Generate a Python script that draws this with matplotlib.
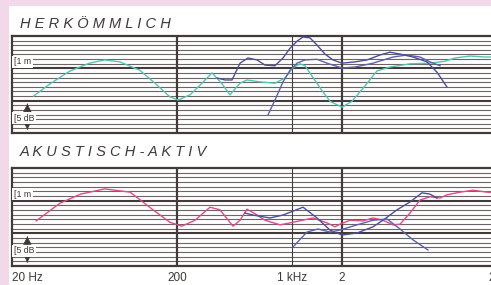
import matplotlib

matplotlib.use("Agg")
import matplotlib.pyplot as plt
from matplotlib.patches import Rectangle
import matplotlib.transforms as mtransforms

# Values: frequency (Hz), level (dB above the panel floor).
# Panel: "HERKÖMMLICH"
herk_teal_f = [27, 34, 45, 59, 73, 90, 119, 147, 181, 203, 240, 276, 326, 375, 419,
               482, 531, 637, 785, 902, 1009, 1113, 1194, 1316, 1471, 1692, 2000,
               2300, 2758, 3260, 3908, 5166, 6828, 8422, 9682, 11938, 14712, 18140]
herk_teal_db = [5.7, 7.6, 9.6, 10.8, 11.3, 11.0, 9.7, 7.7, 5.6, 5.1, 5.9, 7.4, 9.3, 7.6, 5.9,
                7.7, 8.2, 7.9, 7.7, 8.5, 10.1, 10.7, 10.4, 8.8, 7.0, 4.9, 4.0,
                4.9, 7.3, 9.6, 10.2, 10.7, 10.8, 11.1, 11.6, 11.9, 11.75, 11.75]

herk_blue1_f = [350, 391, 431, 482, 539, 611, 683, 785, 878, 968, 1068, 1161, 1280, 1411,
                1578, 1764, 2000, 2398, 2836, 3398, 3908, 4494, 5388, 6548, 7532, 8660]
herk_blue1_db = [8.5, 8.2, 8.2, 10.8, 11.6, 11.3, 10.5, 10.4, 11.6, 13.1, 14.2, 14.85, 14.7, 13.6,
                 12.2, 11.3, 10.8, 11.0, 11.3, 12.06, 12.5, 12.2, 11.75, 11.0, 9.4, 7.1]

herk_blue2_f = [712, 785, 878, 968, 1068, 1194, 1411, 1622, 2000, 2398, 3083, 4076, 4954,
                5940, 6828, 7854]
herk_blue2_db = [2.8, 5.1, 7.9, 9.7, 10.8, 11.3, 11.4, 10.8, 10.05, 10.2, 10.8, 11.75, 12.06,
                 11.75, 11.0, 10.4]

# Panel: "AKUSTISCH-AKTIV"
akt_pink_f = [28, 39, 52, 73, 104, 143, 181, 214, 257, 317, 364, 437, 482, 531, 594, 683,
              842, 968, 1334, 1622, 1814, 1945, 2236, 2682, 3083, 3544, 4076, 4494, 5166,
              5940, 6828, 7854, 8660, 10380, 12448, 15130, 18140]
akt_pink_db = [6.9, 9.6, 11.0, 11.8, 11.3, 8.6, 6.7, 6.1, 7.0, 9.0, 8.6, 6.1, 7.0, 8.7, 8.0, 7.0,
               6.3, 6.6, 7.35, 6.6, 6.0, 6.4, 7.0, 6.9, 7.35, 7.0, 6.3, 6.4, 8.1,
               10.1, 10.6, 10.4, 10.9, 11.3, 11.6, 11.3, 11.2]

akt_blueA_f = [517, 578, 732, 878, 1161, 1411, 1692, 2000, 2466, 3083, 3544, 4309, 5166,
               6108, 6828, 7532]
akt_blueA_db = [8.1, 7.8, 7.35, 7.8, 9.0, 7.35, 5.5, 4.74, 5.05, 6.0, 7.0, 8.6, 9.8,
                11.2, 11.0, 10.4]

akt_blueB_f = [1009, 1227, 1431, 1692, 1945, 2466, 3083, 3748, 4494, 5388, 6640]
akt_blueB_db = [2.9, 5.2, 5.66, 5.2, 5.5, 6.3, 7.0, 7.2, 5.66, 4.0, 2.45]

tick_freqs = [20, 200, 1000, 2000, 20000]
tick_labels = ["20 Hz", "200", "1 kHz", "2", "20"]
thick_freqs = [200, 2000]
thin_freqs = [1000]
titles = ["H E R K Ö M M L I C H", "A K U S T I S C H - A K T I V"]

PINK_BG = "#f2d9ea"
INK = "#3f3939"
GRID = "#6e6464"
THICK = "#433a3a"
TEAL = "#52c6b3"
BLUE1 = "#4c4e9c"
BLUE2 = "#5c62b0"
PINK = "#e04c88"

plt.rcParams["font.family"] = ["Liberation Sans", "DejaVu Sans"]

W, H = 491, 285
fig = plt.figure(figsize=(W / 100, H / 100), dpi=100, facecolor=PINK_BG)
fig.patches.append(Rectangle((9 / W, 0), 1, 1 - 6 / H, transform=fig.transFigure,
                             facecolor="white", edgecolor="none", zorder=-10))


def setup_panel(ax):
    ax.set_xscale("log")
    ax.set_xlim(20, 20000)
    ax.set_ylim(0, 15)
    ax.set_facecolor("white")
    for i in range(1, 21):
        y = i * 5 / 7
        major = i % 7 == 0
        ax.axhline(y, color=THICK if major else GRID, lw=1.5 if major else 0.8, zorder=1)
    for f in thick_freqs:
        ax.axvline(f, color=THICK, lw=1.6, zorder=1)
    for f in thin_freqs:
        ax.axvline(f, color=THICK, lw=0.8, zorder=1)
    for s in ax.spines.values():
        s.set_color(THICK)
        s.set_linewidth(1.6)
    ax.set_yticks([])
    ax.minorticks_off()
    ax.tick_params(axis="x", length=0, labelbottom=False)

    trans = mtransforms.blended_transform_factory(ax.transAxes, ax.transData)
    box = dict(facecolor="white", edgecolor="none", pad=1.3)
    ax.text(0.004, 11.0, "[1 m", transform=trans, fontsize=6.3, color=INK,
            ha="left", va="center", bbox=box, zorder=3)
    for a, b in [(4.95, 0.1), (0.1, 4.95)]:
        ax.annotate("", xy=(0.031, a), xytext=(0.031, b), xycoords=trans, textcoords=trans,
                    arrowprops=dict(arrowstyle="-|>,head_length=0.5,head_width=0.26",
                                    color=INK, lw=0.6), zorder=3)
    ax.text(0.004, 2.3, "[5 dB", transform=trans, fontsize=6.3, color=INK,
            ha="left", va="center", bbox=box, zorder=4)


ax1 = fig.add_axes([12 / W, 1 - 133 / H, 495 / W, 97 / H])
ax2 = fig.add_axes([12 / W, 1 - 266 / H, 495 / W, 98 / H])
setup_panel(ax1)
setup_panel(ax2)

lw = 1.0
ax1.plot(herk_teal_f, herk_teal_db, color=TEAL, lw=lw, zorder=5, solid_joinstyle="round")
ax1.plot(herk_blue2_f, herk_blue2_db, color=BLUE2, lw=lw, zorder=5, solid_joinstyle="round")
ax1.plot(herk_blue1_f, herk_blue1_db, color=BLUE1, lw=lw, zorder=6, solid_joinstyle="round")

ax2.plot(akt_pink_f, akt_pink_db, color=PINK, lw=lw, zorder=5, solid_joinstyle="round")
ax2.plot(akt_blueA_f, akt_blueA_db, color=BLUE1, lw=lw, zorder=6, solid_joinstyle="round")
ax2.plot(akt_blueB_f, akt_blueB_db, color=BLUE2, lw=lw, zorder=6, solid_joinstyle="round")

fig.text(20 / W, 1 - 24 / H, titles[0], fontsize=10.5, style="italic", color=INK,
         ha="left", va="center")
fig.text(20 / W, 1 - 152.5 / H, titles[1], fontsize=10.5, style="italic", color=INK,
         ha="left", va="center")

ax2.set_xticks(tick_freqs, tick_labels)
ax2.tick_params(axis="x", length=0, labelbottom=True, pad=4, labelsize=8.5, labelcolor=INK)
labels = ax2.get_xticklabels()
labels[0].set_ha("left")
labels[-1].set_ha("left")
labels[-1].set_transform(labels[-1].get_transform()
                         + mtransforms.ScaledTranslation(-19 / 100, 0, fig.dpi_scale_trans))

fig.savefig("out.png", dpi=100, facecolor=PINK_BG)
